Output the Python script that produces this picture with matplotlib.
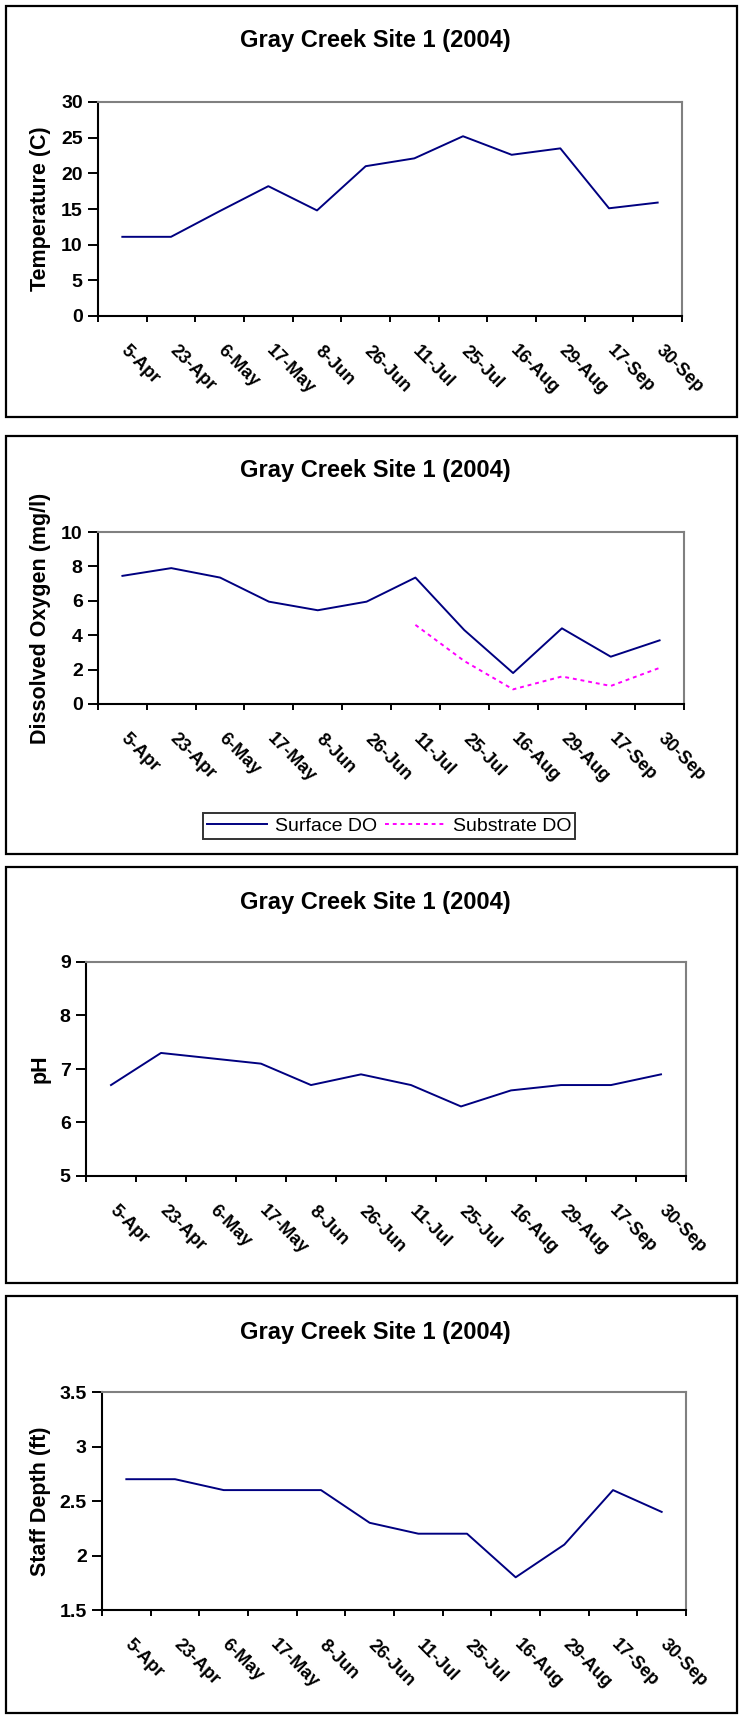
import numpy as np
import matplotlib.pyplot as plt
import matplotlib.transforms as mtransforms
from matplotlib.patches import Rectangle

plt.rcParams['font.family'] = ['Liberation Sans', 'DejaVu Sans']

dates = ["5-Apr", "23-Apr", "6-May", "17-May", "8-Jun", "26-Jun",
         "11-Jul", "25-Jul", "16-Aug", "29-Aug", "17-Sep", "30-Sep"]
temperature = [11.1, 11.1, 14.7, 18.2, 14.8, 21.0, 22.1, 25.2, 22.6, 23.5, 15.1, 15.9]
surface_do = [7.45, 7.9, 7.35, 5.95, 5.45, 5.95, 7.35, 4.3, 1.8, 4.4, 2.75, 3.7]
substrate_do = [np.nan] * 6 + [4.6, 2.5, 0.85, 1.6, 1.05, 2.1]
ph = [6.7, 7.3, 7.2, 7.1, 6.7, 6.9, 6.7, 6.3, 6.6, 6.7, 6.7, 6.9]
staff_depth = [2.7, 2.7, 2.6, 2.6, 2.6, 2.3, 2.2, 2.2, 1.8, 2.1, 2.6, 2.4]

W, H = 743, 1717
fig = plt.figure(figsize=(W / 100, H / 100), dpi=100)
x = np.arange(len(dates))
navy = '#000080'


def px_rect(x0, y0, x1, y1):
    # pixel box (y down from top) -> figure fraction
    return [x0 / W, 1 - y1 / H, (x1 - x0) / W, (y1 - y0) / H]


def panel(frame, ax_box, title_y, ylim, yticks, ylabel):
    fig.patches.append(Rectangle((frame[0] / W, 1 - frame[3] / H),
                                 (frame[2] - frame[0]) / W, (frame[3] - frame[1]) / H,
                                 transform=fig.transFigure, fill=False,
                                 edgecolor='black', lw=1.6))
    fig.text(375 / W, 1 - title_y / H, "Gray Creek Site 1 (2004)",
             ha='center', va='center', fontsize=17, fontweight='bold')
    ax = fig.add_axes(px_rect(*ax_box))
    ax.set_xlim(-0.5, len(dates) - 0.5)
    ax.set_ylim(*ylim)
    ax.set_yticks(yticks, [f"{t:g}" for t in yticks], fontsize=14, fontweight='bold')
    ax.tick_params(axis='y', length=7, width=1.4, pad=4)
    # ticks between categories, labels at category centres
    ax.set_xticks(np.arange(len(dates) + 1) - 0.5, [])
    ax.tick_params(axis='x', which='major', length=4, width=1.4)
    ax.set_xticks(x, dates, minor=True, rotation=-45, ha='left', va='top',
                  rotation_mode='anchor', fontsize=13, fontweight='bold')
    ax.tick_params(axis='x', which='minor', length=0, pad=19)
    offset = mtransforms.ScaledTranslation(7 / 100, 0, fig.dpi_scale_trans)
    for lab in ax.get_xticklabels(minor=True):
        lab.set_transform(lab.get_transform() + offset)
    for s in ['left', 'bottom']:
        ax.spines[s].set_color('black')
        ax.spines[s].set_linewidth(1.5)
    for s in ['top', 'right']:
        ax.spines[s].set_color('#808080')
        ax.spines[s].set_linewidth(1.5)
    ax.set_ylabel(ylabel, fontsize=15.5, fontweight='bold')
    ax.yaxis.set_label_coords((51 - ax_box[0]) / (ax_box[2] - ax_box[0]), 0.5)
    return ax


# Temperature
ax1 = panel((6, 6, 737, 417), (98, 102, 682, 316), 40, (0, 30), range(0, 31, 5),
            "Temperature (C)")
ax1.plot(x, temperature, color=navy, lw=1.4)

# Dissolved oxygen
ax2 = panel((6, 436, 737, 854), (98, 532, 684, 704), 470, (0, 10), range(0, 11, 2),
            "Dissolved Oxygen (mg/l)")
l1, = ax2.plot(x, surface_do, color=navy, lw=1.4, label="Surface DO")
l2, = ax2.plot(x, substrate_do, color='#FF00FF', lw=1.4, linestyle=(0, (2, 2)),
               label="Substrate DO")
leg = fig.legend(handles=[l1, l2], loc='center', bbox_to_anchor=(389 / W, 1 - 826 / H),
                 ncol=2, fontsize=14, frameon=True, fancybox=False, edgecolor='black',
                 handlelength=3.1, handletextpad=0.4, columnspacing=0.4, borderpad=0.2,
                 borderaxespad=0)
leg.get_frame().set_linewidth(1.4)

# pH
ax3 = panel((6, 867, 737, 1283), (86, 962, 686, 1176), 902, (5, 9), range(5, 10),
            "pH")
ax3.plot(x, ph, color=navy, lw=1.4)

# Staff depth
ax4 = panel((6, 1296, 737, 1713), (102, 1392, 686, 1610), 1332, (1.5, 3.5),
            [1.5, 2, 2.5, 3, 3.5], "Staff Depth (ft)")
ax4.plot(x, staff_depth, color=navy, lw=1.4)

fig.savefig("out.png", dpi=100)
